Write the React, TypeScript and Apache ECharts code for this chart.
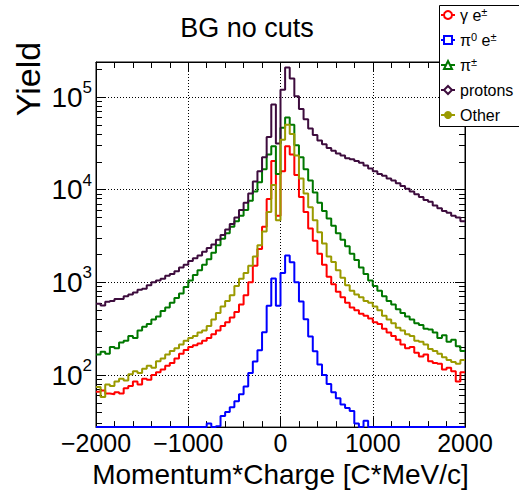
import React, { useEffect, useRef } from 'react';
import * as echarts from 'echarts';

// ---------- data ----------
const X_MIN = -2000;
const X_MAX = 2000;
const BIN_WIDTH = 50;
const Y_MIN_COUNT = 27.4;
const Y_MAX_COUNT = 239000;

const seriesNames = ['γ e±', 'π0 e±', 'π±', 'protons', 'Other'];
const legendLabels = ['γ e{s|±}', 'π{s|0} e{s|±}', 'π{s|±}', 'protons', 'Other'];
const seriesColors = ['#ff0000', '#0000ff', '#007700', '#3d0c3d', '#9a9a00'];
const seriesSymbols = ['emptyCircle', 'emptyRect', 'emptyTriangle', 'emptyDiamond', 'circle'];

const gammaE = [
  66, 68, 63, 62, 65, 63, 72, 76, 85, 79,
  91, 89, 100, 107, 115, 126, 135, 151, 170, 186,
  200, 209, 219, 234, 251, 275, 302, 339, 372, 417,
  479, 575, 724, 1000, 1514, 2291, 3981, 7943, 20420, 5248,
  15850, 29510, 23990, 14450, 8318, 5754, 3802, 2818, 2042, 1549,
  1148, 955, 794, 692, 603, 537, 501, 457, 437, 407,
  372, 355, 316, 288, 263, 240, 214, 195, 200, 174,
  158, 166, 141, 135, 132, 115, 120, 110, 85, 107,
];

const pi0E = [
  0, 0, 0, 0, 0, 0, 0, 0, 0, 0,
  0, 0, 0, 0, 0, 0, 0, 0, 0, 0,
  0, 0, 0, 0, 30, 0, 28, 36, 40, 45,
  52, 62, 75, 105, 140, 185, 290, 560, 1100, 560,
  1260, 1950, 1650, 1000, 620, 400, 260, 180, 130, 100,
  80, 65, 56, 48, 44, 41, 30, 0, 32, 0,
  0, 0, 0, 0, 0, 0, 0, 0, 0, 0,
  0, 0, 0, 0, 0, 0, 0, 0, 0, 0,
];

const piPM = [
  166, 178, 170, 200, 195, 224, 234, 263, 251, 302,
  331, 355, 398, 427, 490, 537, 603, 676, 759, 891,
  1047, 1202, 1349, 1549, 1778, 2089, 2512, 2951, 3388, 3981,
  4571, 5248, 6026, 7586, 9550, 12020, 16600, 23990, 29510, 14790,
  46770, 60260, 50120, 30200, 22390, 16600, 12590, 9333, 7244, 5888,
  4898, 4074, 3388, 2884, 2455, 2042, 1738, 1445, 1230, 1047,
  912, 813, 708, 631, 575, 513, 468, 427, 398, 363,
  347, 316, 309, 288, 251, 269, 229, 240, 204, 182,
];

const protons = [
  589, 562, 617, 631, 661, 661, 708, 741, 776, 832,
  851, 933, 1000, 1047, 1096, 1175, 1230, 1318, 1445, 1549,
  1698, 1820, 1950, 2138, 2344, 2570, 2884, 3236, 3715, 4266,
  5012, 6026, 7244, 9120, 12300, 15850, 22390, 37150, 83180, 31620,
  120200, 208900, 158500, 102300, 74130, 57540, 45710, 38900, 33880, 30900,
  28180, 26300, 24550, 23440, 21880, 21380, 20420, 19500, 18200, 16980,
  15850, 14790, 14130, 13180, 12590, 11750, 10960, 10230, 9550, 8913,
  8318, 7762, 7413, 6761, 6310, 5888, 5623, 5248, 5012, 4571,
];

const other = [
  74, 58, 79, 76, 85, 91, 87, 102, 110, 105,
  117, 126, 120, 141, 151, 166, 182, 195, 214, 234,
  251, 263, 288, 302, 339, 398, 468, 550, 631, 724,
  912, 1096, 1259, 1514, 1905, 2512, 3548, 5754, 11220, 4677,
  34670, 50120, 39810, 23440, 13180, 9120, 6457, 4677, 3467, 2630,
  1905, 1660, 1349, 1122, 933, 813, 741, 692, 631, 603,
  550, 501, 437, 398, 363, 324, 302, 275, 263, 234,
  229, 214, 191, 182, 170, 155, 145, 138, 132, 145,
];

const seriesValues = [gammaE, pi0E, piPM, protons, other];

const xMajorInterval = 1000;
const yMajorCounts = [100, 1000, 10000, 100000];
const yMinorCounts = [
  30, 40, 50, 60, 70, 80, 90,
  200, 300, 400, 500, 600, 700, 800, 900,
  2000, 3000, 4000, 5000, 6000, 7000, 8000, 9000,
  20000, 30000, 40000, 50000, 60000, 70000, 80000, 90000,
  200000,
];

// ---------- helpers ----------
const Y_MIN = Math.log10(Y_MIN_COUNT);
const Y_MAX = Math.log10(Y_MAX_COUNT);
const toLog = (v: number) => (v > 0 ? Math.max(Math.log10(v), Y_MIN) : Y_MIN);
const binEdges = gammaE.map((_, i) => X_MIN + i * BIN_WIDTH);
const histData = (vals: number[]) => [
  ...vals.map((v, i) => [binEdges[i], toLog(v)]),
  [X_MAX, toLog(vals[vals.length - 1])],
];
const yMajorLog = yMajorCounts.map((c) => Math.log10(c));
const yMinorLog = yMinorCounts.map((c) => Math.log10(c));

const FONT = 'Liberation Sans';
const BLACK = '#000';

const baseX = {
  type: 'value',
  min: X_MIN,
  max: X_MAX,
  interval: xMajorInterval,
  axisLine: { show: true, onZero: false, lineStyle: { color: BLACK, width: 1 } },
  axisTick: { show: true, inside: true, length: 10, lineStyle: { color: BLACK } },
  minorTick: { show: true, splitNumber: 5, length: 6, lineStyle: { color: BLACK } },
  splitLine: { show: false },
};

const baseY = {
  type: 'value',
  min: Y_MIN,
  max: Y_MAX,
  axisLine: { show: true, onZero: false, lineStyle: { color: BLACK, width: 1 } },
  splitLine: { show: false },
  axisLabel: { show: false },
};

function buildOption() {
  const series: any[] = seriesNames.map((name, k) => ({
    name,
    type: 'line',
    step: 'end',
    xAxisIndex: 0,
    yAxisIndex: 0,
    data: histData(seriesValues[k]),
    showSymbol: false,
    symbol: seriesSymbols[k],
    symbolSize: 8,
    color: seriesColors[k],
    lineStyle: { color: seriesColors[k], width: 2 },
    itemStyle: { color: seriesColors[k] },
    z: 3,
  }));
  series.unshift({
    name: 'grid',
    type: 'line',
    data: [],
    xAxisIndex: 0,
    yAxisIndex: 0,
    silent: true,
    z: 1,
    markLine: {
      silent: true,
      symbol: ['none', 'none'],
      z: 1,
      label: { show: false },
      lineStyle: { color: BLACK, type: [1, 2], width: 1 },
      emphasis: { disabled: true },
      data: yMajorLog.map((v) => ({ yAxis: v })),
    },
  });

  return {
    animation: false,
    backgroundColor: '#fff',
    textStyle: { fontFamily: FONT },
    grid: {
      left: 96,
      top: 62,
      width: 369,
      height: 367,
      show: true,
      borderColor: BLACK,
      borderWidth: 1,
      backgroundColor: 'transparent',
    },
    xAxis: [
      {
        ...baseX,
        position: 'bottom',
        splitLine: { show: true, lineStyle: { color: BLACK, type: [1, 2], width: 1 } },
        axisLabel: {
          show: true,
          fontSize: 25,
          color: BLACK,
          margin: 3,
          fontFamily: FONT,
          formatter: (v: number) => (v < 0 ? '\u2212' + Math.abs(v) : String(v)),
        },
        name: 'Momentum*Charge [C*MeV/c]',
        nameLocation: 'middle',
        nameGap: 31,
        nameTextStyle: { fontSize: 28, color: BLACK, fontFamily: FONT },
      },
      { ...baseX, position: 'top', axisLabel: { show: false } },
    ],
    yAxis: [
      {
        ...baseY,
        position: 'left',
        axisTick: { show: true, inside: true, length: 10, customValues: yMajorLog, lineStyle: { color: BLACK } },
        axisLabel: {
          show: true,
          customValues: yMajorLog,
          margin: 4,
          color: BLACK,
          fontFamily: FONT,
          formatter: (v: number) => `{a|10}{b|${Math.round(v)}}`,
          rich: {
            a: { fontSize: 28, lineHeight: 36, color: BLACK, fontFamily: FONT },
            b: { fontSize: 17, lineHeight: 17, verticalAlign: 'top', color: BLACK, fontFamily: FONT },
          },
        },
      },
      {
        ...baseY,
        position: 'left',
        axisLine: { show: false, onZero: false },
        axisTick: { show: true, inside: true, length: 6, customValues: yMinorLog, lineStyle: { color: BLACK } },
      },
      {
        ...baseY,
        position: 'right',
        axisTick: { show: true, inside: true, length: 10, customValues: yMajorLog, lineStyle: { color: BLACK } },
      },
      {
        ...baseY,
        position: 'right',
        axisLine: { show: false, onZero: false },
        axisTick: { show: true, inside: true, length: 6, customValues: yMinorLog, lineStyle: { color: BLACK } },
      },
    ],
    legend: {
      data: seriesNames,
      orient: 'vertical',
      left: 440,
      top: 6,
      itemWidth: 14,
      itemHeight: 10,
      itemGap: 7,
      padding: 0,
      z: 110,
      selectedMode: false,
      formatter: (name: string) => legendLabels[seriesNames.indexOf(name)],
      textStyle: {
        fontSize: 16,
        lineHeight: 18,
        color: BLACK,
        fontFamily: FONT,
        rich: {
          s: { fontSize: 11, lineHeight: 11, verticalAlign: 'top', color: BLACK, fontFamily: FONT },
        },
      },
    },
    graphic: [
      {
        type: 'rect',
        z: 100,
        shape: { x: 439.5, y: 5.5, width: 84, height: 121 },
        style: { fill: '#fff', stroke: BLACK, lineWidth: 1 },
      },
      {
        type: 'text',
        z: 100,
        x: 247,
        y: 28,
        style: { text: 'BG no cuts', fontSize: 27, fontFamily: FONT, fill: BLACK, align: 'center', verticalAlign: 'middle' },
      },
      {
        type: 'text',
        z: 100,
        x: 28,
        y: 79,
        rotation: Math.PI / 2,
        style: { text: 'Yield', fontSize: 34, fontFamily: FONT, fill: BLACK, align: 'center', verticalAlign: 'middle' },
      },
    ],
    series,
  };
}

export default function App() {
  const ref = useRef<HTMLDivElement>(null);
  useEffect(() => {
    if (!ref.current) return;
    const chart = echarts.init(ref.current, undefined, { renderer: 'svg' });
    chart.setOption(buildOption() as any);
    return () => chart.dispose();
  }, []);
  return (
    <div
      ref={ref}
      style={{ position: 'fixed', left: 0, top: 0, width: 519, height: 493, background: '#fff' }}
    />
  );
}
